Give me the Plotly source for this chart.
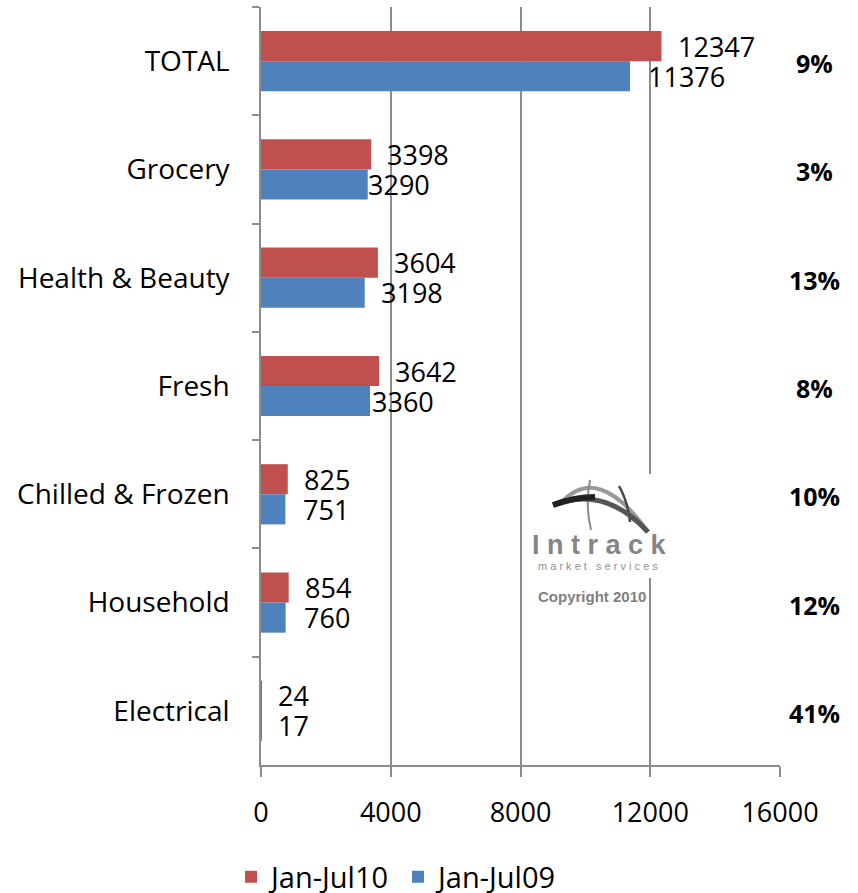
import plotly.graph_objects as go

categories = ["TOTAL", "Grocery", "Health & Beauty", "Fresh", "Chilled & Frozen", "Household", "Electrical"]
jan_jul10 = [12347, 3398, 3604, 3642, 825, 854, 24]
jan_jul09 = [11376, 3290, 3198, 3360, 751, 760, 17]
growth = ["9%", "3%", "13%", "8%", "10%", "12%", "41%"]
x_ticks = [0, 4000, 8000, 12000, 16000]

RED = "#C0504D"
BLUE = "#4F81BD"
GRID = "#8C8C8C"
FONT = "Open Sans"

W, H = 858, 893
L, R, T, B = 261, 78, 7, 128
PW, PH = W - L - R, H - T - B


def px(x):
    return (x - L) / PW


def py(y):
    return (H - B - y) / PH


fig = go.Figure()
fig.add_trace(go.Bar(y=categories, x=jan_jul10, orientation="h", name="Jan-Jul10",
                     marker=dict(color=RED, line=dict(width=0))))
fig.add_trace(go.Bar(y=categories, x=jan_jul09, orientation="h", name="Jan-Jul09",
                     marker=dict(color=BLUE, line=dict(width=0))))

red_shift = [14, 14, 14, 14, 14, 14, 14]
blue_shift = [16, -2, 14, 0, 16, 16, 14]
annotations = []
for i, c in enumerate(categories):
    annotations.append(dict(x=jan_jul10[i], y=c, text=str(jan_jul10[i]), showarrow=False,
                            xanchor="left", yanchor="middle", xshift=red_shift[i], yshift=15,
                            font=dict(family=FONT, size=27, color="black")))
    annotations.append(dict(x=jan_jul09[i], y=c, text=str(jan_jul09[i]), showarrow=False,
                            xanchor="left", yanchor="middle", xshift=blue_shift[i], yshift=-15,
                            font=dict(family=FONT, size=27, color="black")))
    annotations.append(dict(x=px(814), xref="paper", y=c, text="<b>%s</b>" % growth[i],
                            showarrow=False, xanchor="center", yanchor="middle", yshift=-2,
                            font=dict(family=FONT, size=25, color="black")))

# logo
annotations.append(dict(x=px(599), y=py(545), xref="paper", yref="paper", text="<b>I n t r a c k</b>",
                        showarrow=False, xanchor="center", yanchor="middle",
                        font=dict(family="Liberation Sans", size=27, color="#858585")))
annotations.append(dict(x=px(598), y=py(566), xref="paper", yref="paper",
                        text="m a r k e t   s e r v i c e s",
                        showarrow=False, xanchor="center", yanchor="middle",
                        font=dict(family="Liberation Sans", size=11, color="#909090")))
annotations.append(dict(x=px(592), y=py(596), xref="paper", yref="paper", text="<b>Copyright 2010</b>",
                        showarrow=False, xanchor="center", yanchor="middle",
                        font=dict(family="Liberation Sans", size=15, color="#7f7f7f")))


def path(cmds):
    out = []
    for c in cmds:
        if isinstance(c, str):
            out.append(c)
        else:
            out.append("%.5f,%.5f" % (px(c[0]), py(c[1])))
    return " ".join(out)


shapes = [
    dict(type="rect", xref="paper", yref="paper", x0=px(527), x1=px(672), y0=py(578), y1=py(474),
         fillcolor="white", line=dict(width=0), layer="above"),
    dict(type="path", xref="paper", yref="paper", layer="above",
         path=path(["M", (561, 503), "Q", (598, 462), (648, 532)]),
         line=dict(color="#9a9a9a", width=4)),
    dict(type="path", xref="paper", yref="paper", layer="above",
         path=path(["M", (590, 480), "Q", (585, 505), (591, 530)]),
         line=dict(color="#8a8a8a", width=2)),
    dict(type="path", xref="paper", yref="paper", layer="above",
         path=path(["M", (619, 486), "Q", (628, 502), (630, 522)]),
         line=dict(color="#444444", width=2.5)),
    dict(type="path", xref="paper", yref="paper", layer="above",
         path=path(["M", (553, 505), "Q", (605, 485), (648, 532)]),
         line=dict(color="#555555", width=5)),
    dict(type="path", xref="paper", yref="paper", layer="above",
         path=path(["M", (553, 505), "Q", (575, 497), (595, 497)]),
         line=dict(color="#222222", width=6)),
]

fig.update_layout(
    width=W, height=H,
    margin=dict(l=L, r=R, t=T, b=B, autoexpand=False),
    paper_bgcolor="white", plot_bgcolor="white",
    barmode="group", bargap=0.444, bargroupgap=0,
    font=dict(family=FONT, size=27, color="black"),
    xaxis=dict(range=[0, 16000], tickvals=x_ticks, ticktext=[str(v) for v in x_ticks],
               showgrid=True, gridcolor=GRID, gridwidth=1.5, zeroline=False,
               showline=True, linecolor=GRID, linewidth=1.5,
               ticks="outside", ticklen=10, tickcolor=GRID, tickwidth=1.5,
               ticklabelstandoff=13,
               tickfont=dict(family=FONT, size=27, color="black")),
    yaxis=dict(categoryorder="array", categoryarray=categories, autorange="reversed",
               showgrid=False, zeroline=False, showline=True, linecolor=GRID, linewidth=1.5,
               ticks="outside", tickson="boundaries", ticklen=7, tickcolor=GRID, tickwidth=1.5,
               ticklabelstandoff=24,
               tickfont=dict(family=FONT, size=28, color="black")),
    legend=dict(orientation="h", x=px(231), xanchor="left", y=py(877), yanchor="middle",
                entrywidth=122, entrywidthmode="pixels",
                font=dict(family=FONT, size=29, color="black"), traceorder="normal",
                itemclick=False),
    showlegend=True,
    annotations=annotations,
    shapes=shapes,
)

fig.write_html("out.html", config={"displayModeBar": False},
               post_script="document.body.style.margin='0';")
